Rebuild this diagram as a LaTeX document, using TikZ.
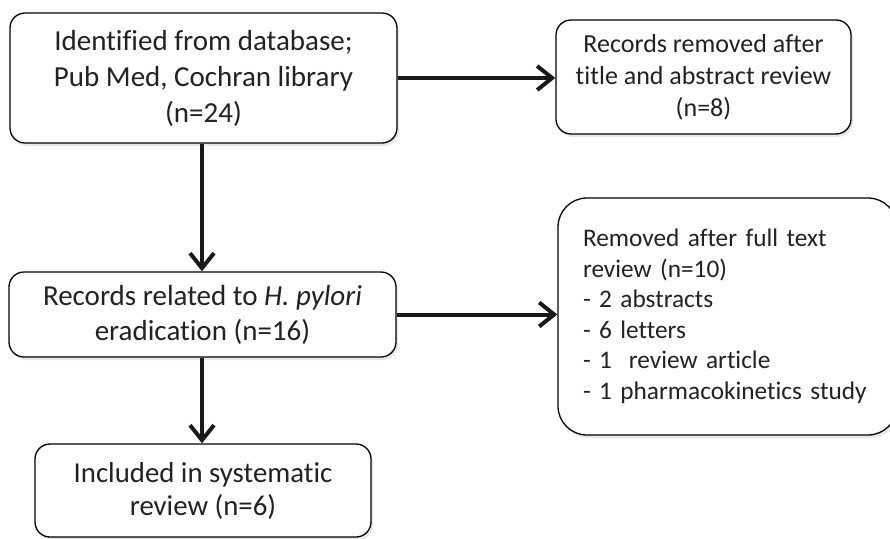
\documentclass[tikz,border=0pt]{standalone}
\usepackage{fontspec}
\setmainfont{Carlito}[Ligatures=NoCommon]
\usetikzlibrary{arrows.meta,shadows}
\definecolor{txt}{HTML}{222222}
\tikzset{
  box/.style={draw=black, line width=1.3pt, fill=white, rounded corners=15pt,
    text=txt, align=center, inner sep=0pt,
    drop shadow={opacity=0.18, shadow xshift=2pt, shadow yshift=-3pt}},
  arr/.style={line width=4pt, draw=black!90, -{Straight Barb[length=15pt,width=24pt]}},
}
\begin{document}
\begin{tikzpicture}[x=1pt,y=-1pt]
\useasboundingbox (0,0) rectangle (890,538);
\node[box,minimum width=387pt,minimum height=130pt,font=\fontsize{29}{36}\selectfont] (b1) at (203.5,78)
  {Identified from database;\\Pub Med, Cochran library\\(n=24)};
\node[box,minimum width=295pt,minimum height=114pt,font=\fontsize{26}{32}\selectfont] (b2) at (703.5,77)
  {Records removed after\\title and abstract review\\(n=8)};
\node[box,minimum width=387pt,minimum height=85pt,font=\fontsize{29}{35}\selectfont] (b3) at (202.5,314.5)
  {Records related to \textit{H. pylori}\\eradication (n=16)};
\node[box,minimum width=336pt,minimum height=93pt,font=\fontsize{28.8}{33}\selectfont] (b4) at (203,490.5)
  {Included in systematic\\review (n=6)};
\node[box,rounded corners=29pt,minimum width=339pt,minimum height=237pt,
  align=left,text width=289pt,inner xsep=25pt,font=\fontsize{25.3}{30.5}\selectfont] (b5) at (727.5,316.5)
  {\mbox{Removed after full text}\\\mbox{review (n=10)}\\\mbox{- 2 abstracts}\\\mbox{- 6 letters}\\\mbox{- 1\ \ review article}\\\mbox{- 1 pharmacokinetics study}};
\draw[arr] (b1.south -| 202,0) -- (b3.north -| 202,0);
\draw[arr] (b3.south -| 202,0) -- (b4.north -| 202,0);
\draw[arr] (b1.east) -- (b1.east -| b2.west);
\draw[arr] (b3.east) -- (b3.east -| b5.west);
\end{tikzpicture}
\end{document}
